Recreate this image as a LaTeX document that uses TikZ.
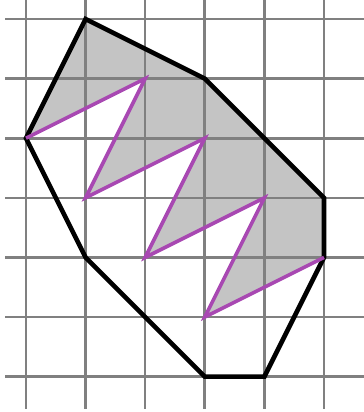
\documentclass[tikz,border=0pt]{standalone}
\definecolor{gridgray}{RGB}{128,128,128}
\definecolor{fillgray}{RGB}{196,196,196}
\definecolor{zigpurple}{RGB}{168,72,178}
\tikzset{
  gridline/.style={draw=gridgray,line width=2.6pt},
  outline/.style={draw=black,line width=4.6pt,line join=miter},
  zigzag/.style={draw=zigpurple,line width=3.6pt,line join=miter},
  shaded/.style={fill=fillgray}
}
\begin{document}
\begin{tikzpicture}[x=59.6pt,y=-59.6pt]
\useasboundingbox (-0.436,-0.319) rectangle (5.671,6.594);
% polygon vertices
\coordinate (p1) at (1,0);
\coordinate (p2) at (3,1);
\coordinate (p3) at (5,3);
\coordinate (p4) at (5,4);
\coordinate (p5) at (4,6);
\coordinate (p6) at (3,6);
\coordinate (p7) at (1,4);
\coordinate (p8) at (0,2);
% zigzag vertices
\coordinate (z1) at (2,1);
\coordinate (z2) at (1,3);
\coordinate (z3) at (3,2);
\coordinate (z4) at (2,4);
\coordinate (z5) at (4,3);
\coordinate (z6) at (3,5);
% shaded region
\fill[shaded] (p8) -- (p1) -- (p2) -- (p3) -- (p4) -- (z6) -- (z5) -- (z4) -- (z3) -- (z2) -- (z1) -- cycle;
% grid
\foreach \r in {0,...,6} \draw[gridline] (-0.352,\r) -- (5.671,\r);
\foreach \c in {0,...,5} \draw[gridline] (\c,-0.319) -- (\c,6.54);
% outline
\draw[outline] (p1) -- (p2) -- (p3) -- (p4) -- (p5) -- (p6) -- (p7) -- (p8) -- cycle;
% zigzag
\draw[zigzag] (p8) -- (z1) -- (z2) -- (z3) -- (z4) -- (z5) -- (z6) -- (p4);
\end{tikzpicture}
\end{document}
